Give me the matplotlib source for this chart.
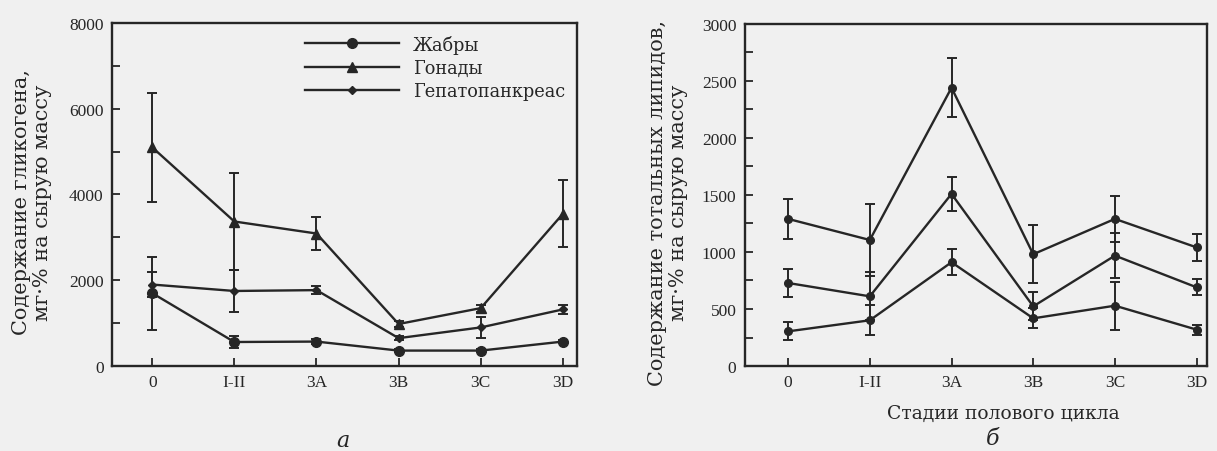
import numpy as np
import matplotlib
matplotlib.use("Agg")
import matplotlib.pyplot as plt
from matplotlib.lines import Line2D

plt.rcParams['font.family'] = ['Liberation Serif', 'DejaVu Serif']

# стадии полового цикла
stages = ["0", "I-II", "3A", "3B", "3C", "3D"]

# а: гликоген, мг% на сырую массу
glyc_gills = [1700, 560, 570, 360, 360, 570]
glyc_gills_err = [850, 150, 50, 30, 30, 40]
glyc_gonads = [5100, 3370, 3090, 980, 1350, 3550]
glyc_gonads_err = [1270, 1130, 390, 60, 80, 780]
glyc_hepato = [1900, 1750, 1770, 650, 900, 1320]
glyc_hepato_err = [300, 480, 100, 50, 240, 100]

# б: тотальные липиды, мг% на сырую массу
lip_top = [1290, 1105, 2440, 980, 1290, 1040]
lip_top_err = [178, 316, 260, 254, 200, 120]
lip_mid = [728, 611, 1509, 523, 968, 690]
lip_mid_err = [120, 210, 150, 123, 200, 70]
lip_low = [304, 401, 910, 418, 529, 319]
lip_low_err = [80, 130, 115, 87, 210, 45]

names = ["Жабры", "Гонады", "Гепатопанкреас"]

bg = '#f0f0f0'
ink = '#262626'
lab_font = ['DejaVu Serif']
x = np.arange(len(stages))

fig = plt.figure(figsize=(12.17, 4.52), dpi=100, facecolor=bg)
ax1 = fig.add_axes([0.092, 0.188, 0.382, 0.759], facecolor=bg)
ax2 = fig.add_axes([0.612, 0.188, 0.380, 0.757], facecolor=bg)

eb = dict(color=ink, ecolor=ink, lw=1.7, elinewidth=1.4, capsize=3.5, capthick=1.4)
styles = [('o', 7), ('^', 6.5), ('D', 4.5)]

for (m, s), vals, errs in zip(styles,
                              [glyc_gills, glyc_gonads, glyc_hepato],
                              [glyc_gills_err, glyc_gonads_err, glyc_hepato_err]):
    ax1.errorbar(x, vals, yerr=errs, marker=m, ms=s, **eb)

for vals, errs in [(lip_top, lip_top_err), (lip_mid, lip_mid_err), (lip_low, lip_low_err)]:
    ax2.errorbar(x, vals, yerr=errs, marker='o', ms=5.5, **eb)

ax1.set_xlim(-0.49, 5.17)
ax1.set_ylim(0, 8000)
ax1.set_yticks(np.arange(0, 8001, 1000))
ax1.set_yticklabels([str(v) if v % 2000 == 0 else "" for v in range(0, 8001, 1000)])
ax1.set_ylabel("Содержание гликогена,\nмг·% на сырую массу", fontsize=15,
               family=lab_font, color=ink, linespacing=1.15)
ax1.yaxis.set_label_coords(-0.128, 0.48)

ax2.set_xlim(-0.53, 5.13)
ax2.set_ylim(0, 3000)
ax2.set_yticks(np.arange(0, 3001, 250))
ax2.set_yticklabels([str(v) if v % 500 == 0 else "" for v in range(0, 3001, 250)])
ax2.set_ylabel("Содержание тотальных липидов,\nмг·% на сырую массу", fontsize=15,
               family=lab_font, color=ink, linespacing=1.15)
ax2.yaxis.set_label_coords(-0.122, 0.48)
ax2.set_xlabel("Стадии полового цикла", fontsize=13.5, family=lab_font, color=ink)
ax2.xaxis.set_label_coords(0.56, -0.11)

for ax in (ax1, ax2):
    ax.set_xticks(x)
    ax.set_xticklabels(stages)
    ax.tick_params(direction='in', length=6, width=1.3, labelsize=12.5, colors=ink, pad=6)
    for s in ax.spines.values():
        s.set_linewidth(1.7)
        s.set_color(ink)

handles = [Line2D([], [], color=ink, lw=1.7, marker=m, ms=s) for m, s in styles]
leg = ax1.legend(handles, names, loc='upper right', frameon=False,
                 prop={'family': lab_font, 'size': 12.8}, handlelength=5.3,
                 borderaxespad=0.25, labelspacing=0.3, handletextpad=0.8)
for t in leg.get_texts():
    t.set_color(ink)

fig.text(0.282, 0.01, "а", fontsize=16, style='italic', family=lab_font, color=ink, ha='center')
fig.text(0.816, 0.015, "б", fontsize=16, style='italic', family=lab_font, color=ink, ha='center')

fig.savefig("out.png", dpi=100, facecolor=bg)
